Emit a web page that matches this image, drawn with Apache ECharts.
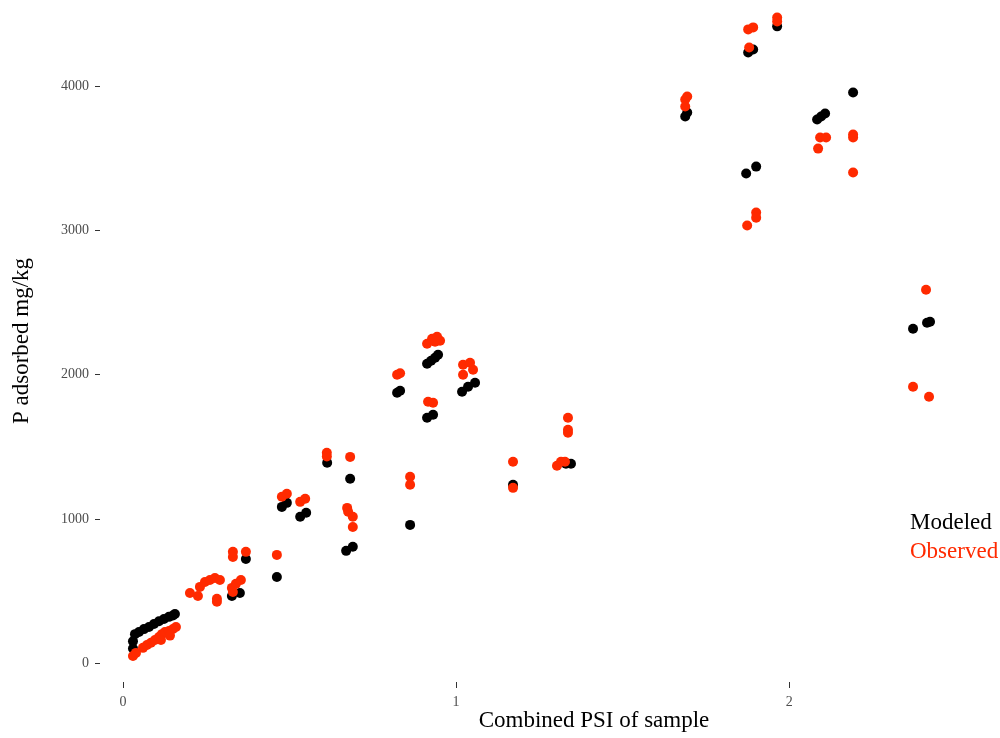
<!DOCTYPE html>
<html>
<head>
<meta charset="utf-8">
<script src="https://cdn.jsdelivr.net/npm/echarts@6/dist/echarts.min.js"></script>
<style>html,body{margin:0;padding:0;background:#fff}#c{width:1000px;height:738px}</style>
</head>
<body>
<div id="c"></div>
<script>
// Series values: [Combined PSI, P adsorbed mg/kg]
var modeled = [
  [0.030,100],[0.030,150],[0.036,200],[0.048,215],[0.063,235],[0.078,250],[0.093,270],[0.108,290],[0.123,305],[0.138,320],[0.150,330],[0.156,340],
  [0.327,465],[0.351,486],[0.369,722],[0.462,597],
  [0.477,1083],[0.492,1111],[0.532,1014],[0.550,1042],
  [0.613,1389],[0.682,1278],[0.670,778],[0.690,806],
  [0.823,1875],[0.832,1889],[0.862,958],
  [0.913,2076],[0.925,2097],[0.937,2118],[0.946,2139],
  [0.913,1701],[0.931,1722],
  [1.018,1882],[1.036,1917],[1.057,1944],
  [1.171,1236],[1.330,1382],[1.345,1382],
  [1.688,3792],[1.694,3819],
  [1.871,3396],[1.901,3444],
  [1.877,4236],[1.892,4257],[1.964,4417],
  [2.084,3771],[2.096,3792],[2.108,3813],[2.192,3958],
  [2.372,2319],[2.414,2361],[2.423,2368]
];
var observed = [
  [0.030,48],[0.039,70],[0.060,105],[0.072,125],[0.084,140],[0.096,160],[0.108,180],[0.117,200],[0.126,215],[0.138,222],[0.150,236],[0.159,250],[0.141,190],[0.114,160],
  [0.201,486],[0.225,465],[0.231,528],[0.246,562],[0.261,576],[0.276,590],[0.291,576],[0.282,445],[0.282,425],[0.327,521],[0.339,549],[0.354,576],[0.330,493],
  [0.330,771],[0.330,736],[0.369,771],[0.462,750],
  [0.477,1153],[0.492,1174],[0.532,1118],[0.547,1139],
  [0.612,1458],[0.612,1432],[0.682,1430],
  [0.673,1076],[0.676,1049],[0.690,1014],[0.690,944],
  [0.823,2000],[0.832,2010],
  [0.862,1292],[0.862,1236],
  [0.913,2215],[0.928,2250],[0.943,2264],[0.952,2236],[0.937,2229],
  [0.916,1812],[0.931,1806],
  [1.021,2069],[1.042,2083],[1.051,2035],[1.021,2000],
  [1.171,1396],[1.171,1215],
  [1.336,1701],[1.336,1618],[1.336,1597],
  [1.303,1368],[1.315,1396],[1.327,1396],
  [1.688,3910],[1.694,3931],[1.688,3861],
  [1.877,4396],[1.892,4410],[1.880,4271],
  [1.964,4479],[1.964,4451],
  [2.093,3646],[2.111,3646],[2.087,3569],
  [2.192,3667],[2.192,3646],[2.192,3403],
  [1.901,3125],[1.901,3090],[1.874,3035],
  [2.411,2590],[2.372,1917],[2.420,1847]
];
var xTicks = [0, 1, 2];
var yTicks = [0, 1000, 2000, 3000, 4000];
var seriesNames = ['Modeled', 'Observed'];
var seriesColors = ['#000000', '#ff2a00'];
var xTitle = 'Combined PSI of sample';
var yTitle = 'P adsorbed mg/kg';

var FONT = '"Liberation Serif", "DejaVu Serif", serif';
var chart = echarts.init(document.getElementById('c'), null, {renderer: 'canvas'});
chart.setOption({
  animation: false,
  backgroundColor: '#ffffff',
  grid: {left: 100, right: 31, top: 0, bottom: 56, containLabel: false, outerBoundsMode: 'none'},
  legend: {
    orient: 'vertical',
    left: 900,
    top: 506,
    itemWidth: 0,
    itemHeight: 0,
    itemGap: 6,
    icon: 'circle',
    selectedMode: false,
    textStyle: {fontFamily: FONT, fontSize: 23},
    data: [
      {name: seriesNames[0], textStyle: {color: seriesColors[0]}},
      {name: seriesNames[1], textStyle: {color: seriesColors[1]}}
    ]
  },
  xAxis: {
    type: 'value',
    min: -0.069, max: 2.54,
    axisLine: {show: false, onZero: false},
    axisTick: {show: true, length: 6, lineStyle: {color: '#333'}, customValues: xTicks},
    axisLabel: {margin: 13, fontFamily: FONT, fontSize: 14, color: '#4d4d4d', customValues: xTicks,
      formatter: function (v) { return String(v); }},
    splitLine: {show: false},
    name: xTitle,
    nameLocation: 'middle',
    nameGap: 27,
    nameMoveOverlap: false,
    nameTextStyle: {fontFamily: FONT, fontSize: 23, color: '#000', padding: [0, 0, 0, 119]}
  },
  yAxis: {
    type: 'value',
    min: -132, max: 4600,
    axisLine: {show: false, onZero: false},
    axisTick: {show: true, length: 5, lineStyle: {color: '#333'}, customValues: yTicks},
    axisLabel: {margin: 11, fontFamily: FONT, fontSize: 14, color: '#4d4d4d', customValues: yTicks,
      formatter: function (v) { return String(v); }},
    splitLine: {show: false},
    name: yTitle,
    nameLocation: 'middle',
    nameGap: 67,
    nameMoveOverlap: false,
    nameTextStyle: {fontFamily: FONT, fontSize: 23, color: '#000'}
  },
  series: [
    {name: seriesNames[0], type: 'scatter', data: modeled, symbolSize: 10,
     itemStyle: {color: seriesColors[0], opacity: 1}, emphasis: {disabled: true}},
    {name: seriesNames[1], type: 'scatter', data: observed, symbolSize: 10,
     itemStyle: {color: seriesColors[1], opacity: 1}, emphasis: {disabled: true}}
  ]
});
</script>
</body>
</html>
